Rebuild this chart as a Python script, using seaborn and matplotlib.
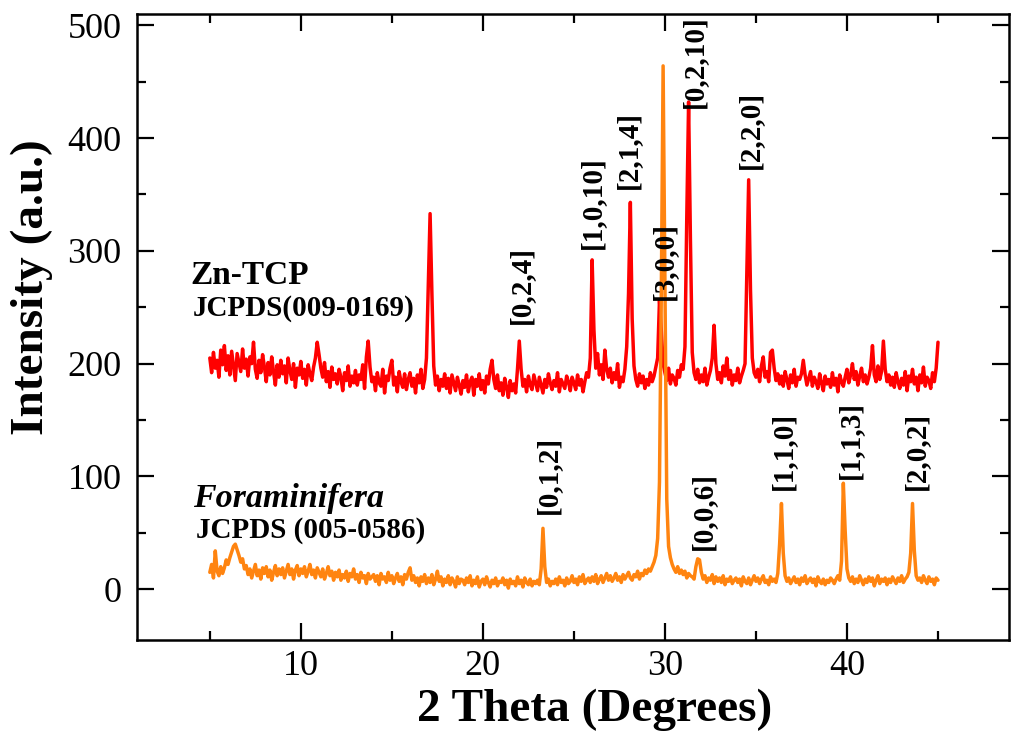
import numpy as np
import pandas as pd
import matplotlib
matplotlib.use("Agg")
import matplotlib.pyplot as plt
import seaborn as sns
from matplotlib.ticker import MultipleLocator

# ---------------- data ----------------
two_theta_start, two_theta_stop, two_theta_step = 5.0, 45.0, 0.1
two_theta = np.round(np.arange(two_theta_start, two_theta_stop + 1e-9, two_theta_step), 1)

zn_tcp = [
    205, 192, 210, 196, 203, 188, 212, 199, 216, 194,   # 5
    207, 190, 211, 198, 185, 209, 201, 193, 213, 196,   # 6
    204, 189, 206, 200, 219, 195, 187, 203, 192, 208,   # 7
    197, 184, 201, 190, 206, 193, 181, 199, 188, 203,   # 8
    191, 198, 183, 205, 194, 186, 200, 179, 196, 190,   # 9
    202, 187, 195, 181, 199, 191, 185, 197, 205, 219,   # 10
    208, 196, 188, 201, 184, 193, 179, 197, 186, 191,   # 11
    182, 195, 188, 176, 192, 185, 198, 180, 189, 183,   # 12
    194, 181, 190, 186, 199, 178, 206, 220, 197, 184,   # 13
    188, 176, 192, 183, 180, 195, 174, 189, 185, 196,   # 14
    203, 181, 188, 175, 193, 184, 179, 191, 177, 186,   # 15
    192, 180, 187, 174, 190, 183, 195, 178, 186, 205,   # 16
    270, 333, 262, 198, 181, 189, 176, 186, 180, 191,   # 17
    178, 187, 174, 190, 183, 176, 188, 181, 173, 185,   # 18
    179, 190, 175, 184, 188, 172, 186, 180, 191, 177,   # 19
    185, 174, 189, 182, 195, 203, 186, 178, 190, 176,   # 20
    183, 172, 187, 179, 170, 185, 176, 182, 174, 195,   # 21
    220, 195, 180, 186, 175, 189, 181, 177, 190, 183,   # 22
    176, 188, 181, 174, 186, 179, 191, 183, 177, 185,   # 23
    180, 192, 175, 186, 182, 178, 189, 184, 176, 188,   # 24
    183, 177, 190, 181, 186, 175, 184, 192, 188, 205,   # 25
    292, 230, 196, 209, 190, 199, 186, 212, 195, 188,   # 26
    196, 183, 192, 186, 200, 179, 188, 184, 195, 215,   # 27
    262, 343, 240, 198, 186, 180, 191, 183, 189, 178,   # 28
    186, 181, 192, 184, 189, 197, 205, 256, 230, 200,   # 29
    192, 185, 196, 182, 190, 187, 181, 194, 188, 199,   # 30
    195, 215, 330, 432, 310, 210, 192, 186, 195, 183,   # 31
    190, 184, 196, 181, 188, 194, 205, 234, 200, 186,   # 32
    192, 183, 198, 189, 205, 186, 194, 181, 190, 185,   # 33
    196, 183, 189, 194, 200, 280, 363, 265, 205, 192,   # 34
    188, 195, 184, 198, 206, 188, 193, 184, 210, 212,   # 35
    196, 185, 191, 182, 189, 180, 193, 186, 178, 190,   # 36
    183, 195, 180, 188, 186, 191, 203, 190, 181, 187,   # 37
    193, 180, 188, 184, 178, 191, 183, 176, 189, 182,   # 38
    186, 179, 192, 181, 187, 175, 190, 184, 180, 188,   # 39
    195, 183, 190, 200, 186, 193, 181, 189, 196, 184,   # 40
    190, 182, 188, 196, 216, 190, 184, 198, 186, 193,   # 41
    220, 195, 184, 190, 181, 188, 179, 192, 184, 178,   # 42
    187, 181, 193, 176, 189, 184, 195, 182, 188, 176,   # 43
    190, 183, 197, 180, 188, 185, 178, 192, 184, 196,   # 44
    219,                                                # 45
]

foraminifera = [
    15, 22, 10, 34, 16, 12, 20, 14, 19, 26,     # 5
    22, 28, 33, 38, 40, 35, 30, 24, 27, 18,     # 6
    21, 13, 18, 10, 16, 22, 12, 17, 9, 19,      # 7
    14, 20, 11, 17, 8, 15, 21, 12, 18, 13,      # 8
    19, 10, 16, 22, 13, 18, 9, 17, 21, 12,      # 9
    18, 14, 20, 11, 16, 22, 13, 17, 10, 19,     # 10
    15, 11, 18, 9, 14, 20, 12, 16, 8, 15,       # 11
    11, 17, 8, 13, 10, 16, 7, 14, 11, 18,       # 12
    9, 13, 6, 15, 10, 12, 5, 14, 9, 11,         # 13
    13, 7, 12, 4, 14, 9, 11, 6, 15, 8,          # 14
    12, 5, 10, 14, 7, 11, 4, 13, 9, 15,         # 15
    19, 8, 12, 6, 10, 3, 11, 7, 13, 5,          # 16
    10, 6, 13, 4, 9, 16, 7, 11, 3, 9,           # 17
    6, 12, 4, 10, 7, 2, 11, 5, 9, 8,            # 18
    4, 10, 6, 12, 3, 8, 5, 11, 2, 7,            # 19
    9, 4, 11, 6, 2, 8, 5, 10, 3, 7,             # 20
    6, 10, 4, 8, 1, 9, 5, 7, 3, 11,             # 21
    5, 8, 2, 10, 6, 4, 9, 3, 7, 5,              # 22
    8, 4, 18, 54, 20, 6, 9, 3, 7, 5,            # 23
    9, 4, 11, 6, 8, 3, 10, 5, 7, 12,            # 24
    6, 9, 4, 11, 7, 13, 5, 8, 10, 6,            # 25
    11, 7, 13, 5, 9, 12, 6, 10, 14, 8,          # 26
    12, 7, 10, 14, 8, 11, 6, 13, 9, 12,         # 27
    15, 10, 8, 13, 11, 16, 9, 14, 12, 17,       # 28
    14, 18, 16, 20, 24, 30, 45, 95, 260, 464,   # 29
    270, 80, 38, 28, 22, 18, 15, 20, 14, 17,    # 30
    13, 16, 10, 14, 12, 11, 9, 20, 27, 26,      # 31
    15, 9, 12, 6, 10, 8, 13, 5, 11, 7,          # 32
    10, 6, 12, 4, 9, 7, 11, 5, 8, 10,           # 33
    6, 9, 3, 11, 7, 5, 10, 4, 8, 12,            # 34
    7, 10, 5, 9, 12, 6, 8, 4, 11, 7,            # 35
    9, 6, 14, 40, 76, 32, 12, 7, 10, 5,         # 36
    8, 11, 6, 9, 4, 10, 7, 12, 5, 8,            # 37
    10, 6, 9, 3, 11, 7, 5, 9, 4, 8,             # 38
    6, 10, 8, 5, 9, 12, 8, 25, 94, 52,          # 39
    18, 10, 7, 11, 5, 9, 6, 12, 8, 4,           # 40
    9, 6, 11, 7, 10, 3, 8, 12, 5, 9,            # 41
    7, 10, 4, 9, 6, 11, 8, 5, 10, 7,            # 42
    12, 6, 9, 11, 15, 32, 76, 34, 12, 8,        # 43
    10, 6, 12, 8, 5, 11, 7, 9, 4, 10,           # 44
    8,                                          # 45
]

# Miller-index annotations: label, 2-theta, intensity at label foot
zn_labels = ["[0,2,4]", "[1,0,10]", "[2,1,4]", "[3,0,0]", "[0,2,10]", "[2,2,0]"]
zn_label_x = [22.1, 26.0, 28.0, 29.95, 31.6, 34.7]
zn_label_y = [235, 302, 355, 256, 427, 373]

fo_labels = ["[0,1,2]", "[0,0,6]", "[1,1,0]", "[1,1,3]", "[2,0,2]"]
fo_label_x = [23.6, 32.1, 36.5, 40.2, 43.8]
fo_label_y = [67, 35, 88, 98, 88]

x_ticks = [10, 20, 30, 40]
y_ticks = [0, 100, 200, 300, 400, 500]

# ---------------- figure ----------------
sns.set_style("ticks")
plt.rcParams["font.family"] = ["Liberation Serif", "DejaVu Serif"]
plt.rcParams["text.color"] = "black"
plt.rcParams["axes.labelcolor"] = "black"
plt.rcParams["xtick.color"] = "black"
plt.rcParams["ytick.color"] = "black"

fig = plt.figure(figsize=(10.24, 7.5), dpi=100)
ax = fig.add_axes([137 / 1024, 110 / 750, 872 / 1024, 626 / 750])

df_zn = pd.DataFrame({"two_theta": two_theta, "intensity": zn_tcp})
df_fo = pd.DataFrame({"two_theta": two_theta, "intensity": foraminifera})

sns.lineplot(data=df_zn, x="two_theta", y="intensity", color="#ff0000",
             linewidth=2.5, ax=ax, estimator=None)
sns.lineplot(data=df_fo, x="two_theta", y="intensity", color="#ff8410",
             linewidth=2.5, ax=ax, estimator=None)

ax.set_xlim(1.0, 48.9)
ax.set_ylim(-45, 510)
ax.set_xticks(x_ticks)
ax.set_yticks(y_ticks)
ax.xaxis.set_minor_locator(MultipleLocator(5))
ax.yaxis.set_minor_locator(MultipleLocator(50))

for s in ax.spines.values():
    s.set_linewidth(1.8)
    s.set_color("black")
    s.set_visible(True)

ax.tick_params(which="both", direction="in", top=True, right=True,
               width=1.6, color="black", labelcolor="black")
ax.tick_params(which="major", length=12.5)
ax.tick_params(which="minor", length=6.5)
ax.tick_params(axis="x", which="major", labelsize=26, pad=7)
ax.tick_params(axis="y", which="major", labelsize=26, pad=11)

ax.set_xlabel("2 Theta (Degrees)", fontsize=34, fontweight="bold", color="black")
ax.set_ylabel("Intensity (a.u.)", fontsize=34, fontweight="bold", color="black")
ax.xaxis.set_label_coords(0.525, -0.077)
ax.yaxis.set_label_coords(-0.096, 0.564)

# sample names
ax.text(10 - (300 - 190) / 18.2, (589 - 283) / 1.13, "Zn-TCP",
        fontsize=24, fontweight="bold", ha="left", va="baseline", color="black")
ax.text(10 - (300 - 192) / 18.2, (589 - 315) / 1.13, "JCPDS(009-0169)",
        fontsize=21, fontweight="bold", ha="left", va="baseline", color="black")
ax.text(10 - (300 - 192) / 18.2, (589 - 507) / 1.13, "Foraminifera",
        fontsize=24.5, fontweight="bold", fontstyle="italic", ha="left",
        va="baseline", color="black")
ax.text(10 - (300 - 195) / 18.2, (589 - 537) / 1.13, "JCPDS (005-0586)",
        fontsize=21, fontweight="bold", ha="left", va="baseline", color="black")

for lab, lx, ly in zip(zn_labels, zn_label_x, zn_label_y):
    ax.text(lx, ly, lab, rotation=90, ha="center", va="bottom",
            fontsize=21, fontweight="bold", color="black")
for lab, lx, ly in zip(fo_labels, fo_label_x, fo_label_y):
    ax.text(lx, ly, lab, rotation=90, ha="center", va="bottom",
            fontsize=21, fontweight="bold", color="black")

fig.savefig("out.png", dpi=100)
